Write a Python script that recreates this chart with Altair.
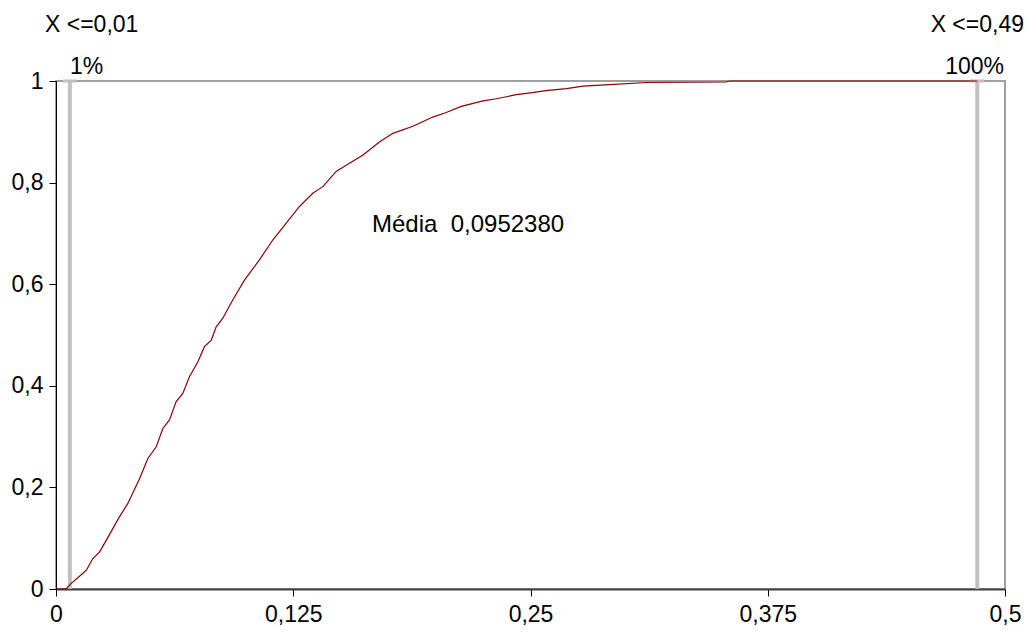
import altair as alt
import pandas as pd

cdf_x = [0, 0.0053, 0.008, 0.0133, 0.016, 0.0194, 0.023, 0.028, 0.0334, 0.0378, 0.044,
         0.0484, 0.0528, 0.0563, 0.0598, 0.0633, 0.0668, 0.0703, 0.0747, 0.0782, 0.0818,
         0.0844, 0.0879, 0.0931, 0.0993, 0.1072, 0.1142, 0.1213, 0.1283, 0.1353, 0.1406,
         0.1476, 0.1546, 0.1616, 0.1704, 0.1775, 0.188, 0.1985, 0.2056, 0.2135, 0.225,
         0.232, 0.2425, 0.251, 0.258, 0.269, 0.2776, 0.2916, 0.311, 0.353, 0.355, 0.4854]
cdf_y = [0, 0, 0.011, 0.028, 0.037, 0.060, 0.073, 0.106, 0.142, 0.168, 0.217,
         0.257, 0.280, 0.316, 0.333, 0.369, 0.385, 0.418, 0.447, 0.477, 0.490,
         0.516, 0.533, 0.569, 0.608, 0.648, 0.687, 0.720, 0.753, 0.779, 0.792,
         0.822, 0.838, 0.854, 0.880, 0.897, 0.911, 0.929, 0.938, 0.950, 0.961,
         0.965, 0.973, 0.977, 0.981, 0.985, 0.990, 0.993, 0.997, 0.998, 1.0, 1.0]

# Percentile markers
marker_x = [0.0073, 0.4854]
marker_lo = [0, 0]
marker_hi = [1, 1]

x_ticks = [0, 0.125, 0.25, 0.375, 0.5]
y_ticks = [0, 0.2, 0.4, 0.6, 0.8, 1]

FONT = "Liberation Sans"

curve_df = pd.DataFrame({"x": cdf_x, "y": cdf_y})
marker_df = pd.DataFrame({"x": marker_x, "y0": marker_lo, "y1": marker_hi})

xscale = alt.Scale(domain=[0, 0.5], nice=False, zero=False)
yscale = alt.Scale(domain=[0, 1], nice=False)

label_expr = "replace(toString(datum.value), '.', ',')"

xaxis = alt.Axis(values=x_ticks, labelExpr=label_expr, grid=False, title=None,
                 domainColor="#404040", domainWidth=2, tickColor="#000000", tickSize=7,
                 labelFont=FONT, labelFontSize=23, labelColor="#000000", labelPadding=7,
                 labelFlush=False, labelOverlap=False)
yaxis = alt.Axis(values=y_ticks, labelExpr=label_expr, grid=False, title=None,
                 domainColor="#000000", domainWidth=1, tickColor="#000000", tickSize=7,
                 labelFont=FONT, labelFontSize=23, labelColor="#000000", labelPadding=6,
                 labelFlush=False, labelOverlap=False)

markers = alt.Chart(marker_df).mark_rule(color="#C0C0C0", strokeWidth=4).encode(
    x=alt.X("x:Q", scale=xscale, axis=xaxis),
    y=alt.Y("y0:Q", scale=yscale, axis=yaxis),
    y2="y1:Q",
)

caps = alt.Chart(marker_df).mark_point(
    shape="M-1,-0.22H1V0.22H-1Z", size=196, filled=True, color="#C0C0C0", opacity=1
).encode(
    x=alt.X("x:Q", scale=xscale),
    y=alt.Y("y1:Q", scale=yscale),
)

curve = alt.Chart(curve_df).mark_line(color="#8B0000", strokeWidth=1.2).encode(
    x=alt.X("x:Q", scale=xscale),
    y=alt.Y("y:Q", scale=yscale),
)


def txt(text, px, py, align, size=23):
    return alt.Chart(pd.DataFrame({"t": [text]})).mark_text(
        font=FONT, fontSize=size, color="#000000", align=align, baseline="middle"
    ).encode(text="t:N", x=alt.value(px), y=alt.value(py))


texts = [
    txt("X <=0,01", -11, -56, "left"),
    txt("1%", 14, -14, "left"),
    txt("X <=0,49", 968, -56, "right"),
    txt("100%", 948, -14, "right"),
    txt("Média\u00a0\u00a00,0952380", 316, 144, "left", 24),
]

chart = alt.layer(markers, caps, curve, *texts).properties(
    width=949, height=508,
    autosize=alt.AutoSizeParams(type="none"),
    padding={"left": 56, "top": 81, "right": 24, "bottom": 44},
    background="#FFFFFF",
).configure_view(stroke="#808080", strokeWidth=1.5)

chart.save("out.html", embed_options={"renderer": "svg", "actions": False})
